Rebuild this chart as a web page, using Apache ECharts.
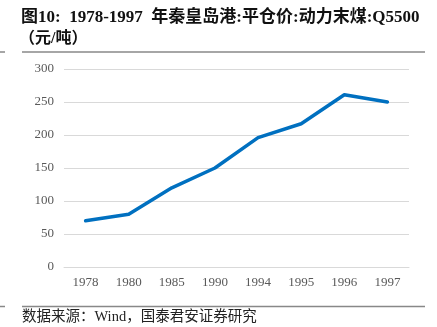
<!DOCTYPE html>
<html>
<head>
<meta charset="utf-8">
<script src="https://cdn.jsdelivr.net/npm/echarts@6/dist/echarts.min.js"></script>
<style>
  html, body { margin: 0; padding: 0; background: #fff; }
  #chart { width: 437px; height: 327px; }
</style>
</head>
<body>
<div id="chart"></div>
<script>
// Qinhuangdao port FOB price, thermal coal Q5500 (yuan/ton)
const years = ['1978', '1980', '1985', '1990', '1994', '1995', '1996', '1997'];
const prices = [70, 80, 120, 150, 196, 217, 261, 250];
const yTicks = [0, 50, 100, 150, 200, 250, 300];

const serif = '"Times New Roman", "Liberation Serif", "Noto Sans CJK SC", serif';

const chart = echarts.init(document.getElementById('chart'));
chart.setOption({
  animation: false,
  title: [{
    text: '图10:  1978-1997  年秦皇岛港:平仓价:动力末煤:Q5500',
    left: 21,
    top: 8,
    padding: 0,
    textStyle: { fontFamily: serif, fontWeight: 'bold', fontSize: 17, lineHeight: 19, color: '#111' }
  }, {
    text: '（元/吨）',
    left: 19,
    top: 30,
    padding: 0,
    textStyle: { fontFamily: serif, fontWeight: 'bold', fontSize: 16, lineHeight: 17, color: '#111' }
  }],
  graphic: [
    { type: 'line', shape: { x1: 22, y1: 52, x2: 425, y2: 52 }, style: { stroke: '#888', lineWidth: 1.5 } },
    { type: 'line', shape: { x1: 0, y1: 52, x2: 5, y2: 52 }, style: { stroke: '#888', lineWidth: 1.5 } },
    { type: 'line', shape: { x1: 22, y1: 306.5, x2: 425, y2: 306.5 }, style: { stroke: '#888', lineWidth: 1.5 } },
    { type: 'line', shape: { x1: 0, y1: 306.5, x2: 5, y2: 306.5 }, style: { stroke: '#888', lineWidth: 1.5 } },
    {
      type: 'text', left: 22, top: 310,
      style: { text: '数据来源：Wind，国泰君安证券研究', font: '14.5px ' + serif, fill: '#222' }
    }
  ],
  grid: { left: 64, right: 28, top: 69, bottom: 60 },
  xAxis: {
    type: 'category',
    data: years,
    boundaryGap: true,
    axisLine: { show: true, lineStyle: { color: '#d9d9d9', width: 1 } },
    axisTick: { show: false },
    axisLabel: { color: '#595959', fontFamily: serif, fontSize: 13, margin: 9 }
  },
  yAxis: {
    type: 'value',
    min: yTicks[0],
    max: yTicks[yTicks.length - 1],
    interval: 50,
    axisLine: { show: false },
    axisTick: { show: false },
    axisLabel: { color: '#595959', fontFamily: serif, fontSize: 13, margin: 10 },
    splitLine: { lineStyle: { color: '#d9d9d9', width: 1 } }
  },
  series: [{
    type: 'line',
    data: prices,
    symbol: 'none',
    lineStyle: { color: '#0070C0', width: 3.5, cap: 'round', join: 'round' }
  }]
});
</script>
</body>
</html>
